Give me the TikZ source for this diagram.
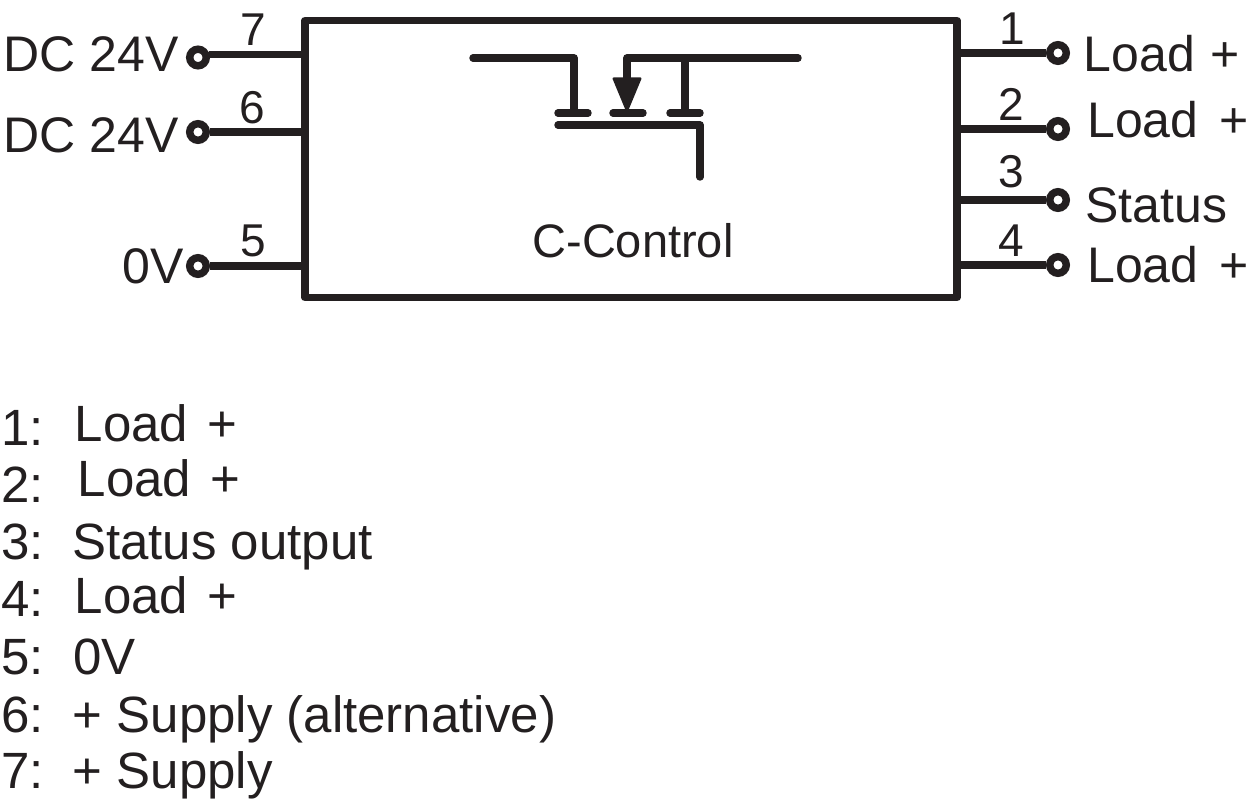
\documentclass[tikz,border=0pt]{standalone}
\usepackage{fontspec}
\setmainfont{Liberation Sans}
\usetikzlibrary{positioning}
\definecolor{inkblack}{HTML}{231F20}
\tikzset{
  wire/.style={draw=inkblack, line width=5.6pt},
  fet/.style={draw=inkblack, line width=5.6pt, line cap=round, line join=round},
  pin/.style={circle, draw=inkblack, fill=white, line width=5.6pt, inner sep=0pt, minimum size=12.4pt},
  pinlabel/.style={inner sep=0pt, anchor=base west, text=inkblack, font=\fontsize{37.5pt}{40pt}\selectfont},
  pinnum/.style={inner sep=0pt, anchor=base, text=inkblack, font=\fontsize{34.5pt}{38pt}\selectfont},
  legend/.style={inner sep=0pt, anchor=base west, text=inkblack, font=\fontsize{38.25pt}{40pt}\selectfont}
}
\begin{document}
\begin{tikzpicture}[x=0.75pt, y=-0.75pt]

  \useasboundingbox (0,0) rectangle (1250,802);

  \node (box) [draw=inkblack, line width=5.6pt, line join=round, inner sep=0pt,
    minimum width=489pt, minimum height=207.75pt] at (631,159) {};

  %
  \node (pin7) [pin] at (198,57.5) {};
  \node (pin6) [pin] at (198,132) {};
  \node (pin5) [pin] at (198,266) {};
  \node (pin1) [pin] at (1058,53) {};
  \node (pin2) [pin] at (1058,129) {};
  \node (pin3) [pin] at (1058,200) {};
  \node (pin4) [pin] at (1058,265) {};

  \coordinate (stub7) at (box.west |- 0,54.5);

  \path [wire] ([xshift=-1pt]stub7 -| pin7.east) edge (stub7) ;

  \path [wire] (pin6) ++(12,0) edge (pin6 -| box.west) ;

  \path [wire] (pin5) ++(12,0) edge (pin5 -| box.west) ;

  \path [wire] (pin1) ++(-12,0) edge (pin1 -| box.east) ;

  \path [wire] (pin2) ++(-12,0) edge (pin2 -| box.east) ;

  \path [wire] (pin3) ++(-12,0) edge (pin3 -| box.east) ;

  \path [wire] (pin4) ++(-12,0) edge (pin4 -| box.east) ;

  %
  \node (num7) [pinnum] at (253,46) {7};
  \node (num6) [pinnum] at (252,124) {6};
  \node (num5) [pinnum] at (253,257) {5};
  \node (num1) [pinnum] at (1012,45) {1};
  \node (num2) [pinnum] at (1011,120.7) {2};
  \node (num3) [pinnum] at (1011,188) {3};
  \node (num4) [pinnum] at (1011,257) {4};

  \node (lab7) [pinlabel] at (3.5,72) {DC 24V};
  \node (lab6) [pinlabel] at (3.5,153) {DC 24V};
  \node (lab5) [pinlabel] at (122,284) {0V};
  \node (lab1) [pinlabel] at (1083.5,71.7) {Load\hspace{1.5pt} +};
  \node (lab2) [pinlabel] at (1087,138) {Load\hspace{5.25pt} +};
  \node (lab3) [pinlabel] at (1085,222.7) {Status};
  \node (lab4) [pinlabel] at (1087,283) {Load\hspace{5.25pt} +};

  \node (ctrl) [inner sep=0pt, anchor=base, text=inkblack, font=\fontsize{35.25pt}{38pt}\selectfont]
    at (633,258) {C-Control};

  %
  \draw [fet] (473,58) -- (574,58) -- (574,113);
  \draw [fet] (627,80) -- (627,58) -- (798,58);
  \draw [fet] (685,58) -- (685,113);
  \draw [fet] (558,113) -- (588,113);
  \draw [fet] (613,113) -- (643,113);
  \draw [fet] (670,113) -- (700,113);
  \draw [fet] (558,125) -- (700,125) -- (700,177);
  \draw [draw=inkblack, fill=inkblack, line width=1.5pt, line join=round]
    (613.5,78.5) -- (640.5,78.5) -- (627,111) -- cycle;

  %
  \node (key1) [legend] at (1,445) {1:};
  \node (key2) [legend] at (1,502) {2:};
  \node (key3) [legend] at (1,559.3) {3:};
  \node (key4) [legend] at (1,616.7) {4:};
  \node (key5) [legend] at (1,674) {5:};
  \node (key6) [legend] at (1,732) {6:};
  \node (key7) [legend] at (1,788) {7:};

  \node (text1) [legend] at (74.5,441.7) {Load\hspace{3.75pt} +};
  \node (text2) [legend] at (77.5,496.7) {Load\hspace{3.75pt} +};
  \node (text3) [legend] at (72,559.3) {Status output};
  \node (text4) [legend] at (74.5,613.3) {Load\hspace{3.75pt} +};
  \node (text5) [legend] at (73,674) {0V};
  \node (text6) [legend] at (72.5,732) {+ Supply (alternative)};
  \node (text7) [legend] at (72.5,788) {+ Supply};

\end{tikzpicture}
\end{document}
